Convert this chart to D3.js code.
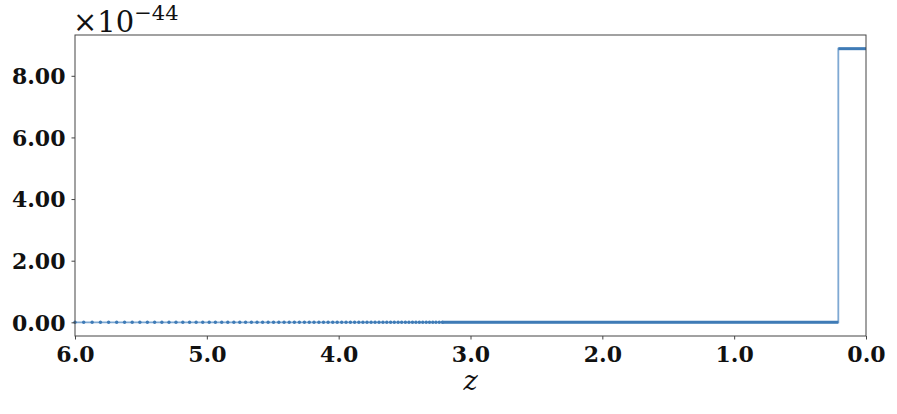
<!DOCTYPE html>
<html>
<head>
<meta charset="utf-8">
<script src="https://cdn.jsdelivr.net/npm/d3@7"></script>
<style>
  body { margin: 0; background: #fff; }
  svg text { font-family: "DejaVu Serif", "Liberation Serif", serif; }
</style>
</head>
<body>
<div id="chart"></div>
<script>
// redshift of the sampled points (visible markers, high z end)
var zMarkers = [6.000, 5.934, 5.870, 5.807, 5.745, 5.684, 5.624, 5.566, 5.508, 5.451,
  5.396, 5.341, 5.287, 5.234, 5.182, 5.131, 5.081, 5.031, 4.982, 4.935,
  4.887, 4.841, 4.795, 4.750, 4.706, 4.662, 4.619, 4.577, 4.535, 4.494,
  4.454, 4.414, 4.375, 4.336, 4.298, 4.260, 4.223, 4.187, 4.150, 4.115,
  4.080, 4.045, 4.011, 3.977, 3.944, 3.911, 3.879, 3.847, 3.816, 3.785,
  3.754, 3.724, 3.694, 3.664, 3.635, 3.606, 3.578, 3.549, 3.522, 3.494,
  3.467, 3.440, 3.414, 3.388, 3.362, 3.336, 3.311, 3.286, 3.262, 3.237, 3.213];
// the series (values in units of 1e-44)
var seriesZ = [6.0, 0.21, 0.21, 0.0];
var seriesV = [0.0, 0.0, 8.88, 8.88];
var xTicks = [6, 5, 4, 3, 2, 1, 0];
var yTicks = [0, 2, 4, 6, 8];

const width = 897;
const height = 414;
const padding = { top: 35, right: 31, bottom: 78, left: 75 };
const plotW = width - padding.left - padding.right;
const plotH = height - padding.top - padding.bottom;

var xScale = d3.scaleLinear().domain([6, 0]).range([0, plotW]);
var yScale = d3.scaleLinear().domain([-0.444, 9.324]).range([plotH, 0]);

var svg = d3.select("#chart").append("svg")
  .attr("width", width)
  .attr("height", height);

var g = svg.append("g").attr("transform", "translate(" + padding.left + "," + padding.top + ")");

var lineColor = "#7fa9d3";
var markColor = "#3f7bb6";

var pts = seriesZ.map(function(z, i) { return [z, seriesV[i]]; });
var line = d3.line().x(function(d) { return xScale(d[0]); }).y(function(d) { return yScale(d[1]); });

// thin connecting line
g.append("path")
  .attr("d", line(pts))
  .attr("fill", "none")
  .attr("stroke", lineColor)
  .attr("stroke-width", 1.8);

// dense sampling: markers overlap into a solid band
var lastMarker = zMarkers[zMarkers.length - 1];
var bandLow = [[lastMarker, seriesV[0]], [seriesZ[1], seriesV[1]]];
var bandHigh = [[seriesZ[2], seriesV[2]], [seriesZ[3], seriesV[3]]];
[bandLow, bandHigh].forEach(function(b) {
  g.append("path")
    .attr("d", line(b))
    .attr("fill", "none")
    .attr("stroke", markColor)
    .attr("stroke-width", 3);
});

g.selectAll("circle.mk")
  .data(zMarkers)
  .enter()
  .append("circle")
  .attr("class", "mk")
  .attr("cx", function(d) { return xScale(d); })
  .attr("cy", yScale(0))
  .attr("r", 1.7)
  .attr("fill", markColor);

// axes
var xAxis = d3.axisBottom(xScale).tickValues(xTicks).tickFormat(d3.format(".1f")).tickSize(3.5).tickPadding(5);
var yAxis = d3.axisLeft(yScale).tickValues(yTicks).tickFormat(d3.format(".2f")).tickSize(3.5).tickPadding(6);

var gx = g.append("g").attr("transform", "translate(0," + plotH + ")").call(xAxis);
var gy = g.append("g").call(yAxis);
[gx, gy].forEach(function(a) {
  a.select(".domain").remove();
  a.selectAll("line").attr("stroke", "#444");
  a.selectAll("text")
    .attr("fill", "#111")
    .style("font-family", "'DejaVu Serif', serif")
    .style("font-weight", "bold")
    .style("font-size", "22px");
});
gy.selectAll("text").attr("dy", "0.36em");
gx.selectAll("text").attr("dy", "0.78em");

// frame
g.append("rect")
  .attr("width", plotW)
  .attr("height", plotH)
  .attr("fill", "none")
  .attr("stroke", "#444")
  .attr("stroke-width", 1);

// offset text
var off = svg.append("text")
  .attr("x", padding.left - 2)
  .attr("y", 32)
  .attr("fill", "#111")
  .style("font-size", "29px");
off.append("tspan").text("\u00d710");
off.append("tspan").attr("dy", -12).style("font-size", "21px").text("\u221244");

// x label
svg.append("text")
  .attr("x", padding.left + plotW / 2)
  .attr("y", 390)
  .attr("text-anchor", "middle")
  .attr("fill", "#111")
  .style("font-style", "italic")
  .style("font-size", "27px")
  .text("z");
</script>
</body>
</html>
